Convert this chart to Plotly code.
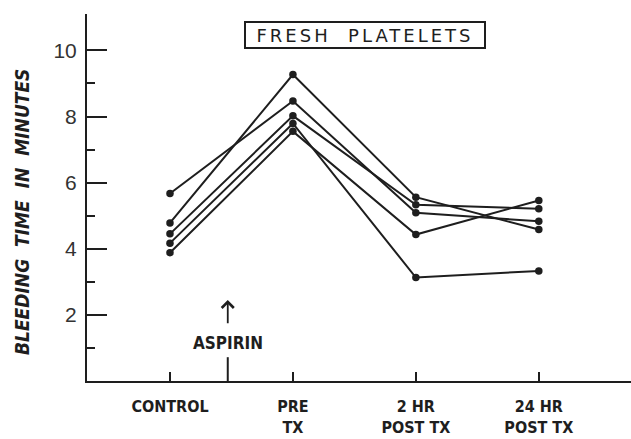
import plotly.graph_objects as go

categories = ["CONTROL", "PRE<br>TX", "2 HR<br>POST TX", "24 HR<br>POST TX"]
patient_a = [5.67, 8.47, 5.09, 4.83]
patient_b = [4.78, 9.27, 5.56, 4.58]
patient_c = [4.45, 8.02, 5.33, 5.21]
patient_d = [4.17, 7.79, 3.13, 3.33]
patient_e = [3.88, 7.55, 4.43, 5.46]
series = [patient_a, patient_b, patient_c, patient_d, patient_e]
major_ticks = [2, 4, 6, 8, 10]
minor_ticks = [1, 3, 5, 7, 9]
aspirin_pos = 0.47

INK = "#1e1e1e"
COND = "DejaVu Sans Condensed"

fig = go.Figure()
for s in series:
    fig.add_trace(go.Scatter(
        x=categories, y=s, mode="lines+markers",
        line=dict(color=INK, width=2),
        marker=dict(color=INK, size=7.5),
        showlegend=False, hoverinfo="skip"))

fig.update_layout(
    width=631, height=439,
    margin=dict(l=87, r=0, t=14, b=58),
    paper_bgcolor="white", plot_bgcolor="white",
    xaxis=dict(
        type="category", range=[-0.675, 3.75], automargin=False,
        showline=True, linecolor=INK, linewidth=2,
        ticks="inside", ticklen=9, tickwidth=2, tickcolor=INK,
        showgrid=False, zeroline=False,
        tickfont=dict(family=COND, size=16, color=INK, weight="bold"),
        ticklabelstandoff=10,
    ),
    yaxis=dict(
        range=[0, 11.1], automargin=False,
        showline=True, linecolor=INK, linewidth=2,
        tickmode="array", tickvals=major_ticks,
        ticks="inside", ticklen=20, tickwidth=2, tickcolor=INK,
        minor=dict(tickmode="array", tickvals=minor_ticks, ticks="inside",
                   ticklen=8, tickwidth=2, tickcolor=INK, showgrid=False),
        showgrid=False, zeroline=False,
        tickfont=dict(family="Liberation Sans", size=21, color="#333"),
        ticklabelstandoff=4,
    ),
)

fig.add_shape(type="line", xref="x", yref="y",
              x0=aspirin_pos, x1=aspirin_pos, y0=0, y1=0.72,
              line=dict(color=INK, width=2))

fig.add_annotation(x=aspirin_pos, y=2.45, ax=aspirin_pos, ay=1.7,
                   xref="x", yref="y", axref="x", ayref="y",
                   text="", showarrow=True, arrowhead=4, arrowsize=1.3,
                   arrowwidth=1.8, arrowcolor=INK)
fig.add_annotation(x=aspirin_pos, y=1.15, xref="x", yref="y",
                   text="ASPIRIN", showarrow=False,
                   font=dict(family=COND, size=17, color=INK, weight="bold"))

fig.add_annotation(x=(365 - 87) / 544, y=(381 - 35) / 367, xref="paper", yref="paper",
                   xanchor="center", yanchor="middle",
                   text="FRESH  PLATELETS", showarrow=False,
                   font=dict(family="DejaVu Sans", size=18, color=INK),
                   bordercolor=INK, borderwidth=2, borderpad=2,
                   width=234, height=20, bgcolor="white")

fig.add_annotation(x=(22 - 87) / 544, y=(381 - 212) / 367, xref="paper", yref="paper",
                   xanchor="center", yanchor="middle",
                   text="BLEEDING  TIME  IN  MINUTES", showarrow=False, textangle=-90,
                   font=dict(family=COND, size=19, color=INK, weight="bold", style="italic"))

post = """
document.body.style.margin='0';document.body.style.padding='0';
document.querySelectorAll('text.annotation-text').forEach(function(t){
  if (t.textContent.indexOf('FRESH') === 0) { t.style.letterSpacing = '3px'; }
});
"""
fig.write_html("out.html", post_script=post, config={"displayModeBar": False})
